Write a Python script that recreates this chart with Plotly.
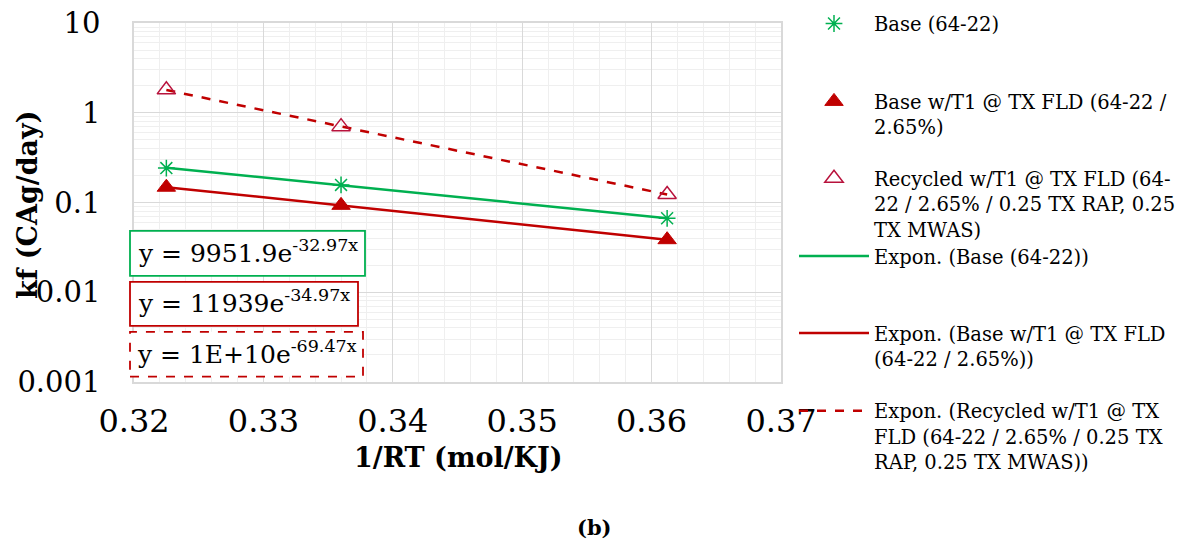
import numpy as np
import plotly.graph_objects as go

# ---- data ----
x_vals = [0.3225, 0.3360, 0.3612]
base = [0.242, 0.157, 0.0667]
base_t1 = [0.148, 0.093, 0.0385]
recycled = [1.80, 0.70, 0.123]

names = [
    "Base (64-22)",
    "Base w/T1 @ TX FLD (64-22 /<br>2.65%)",
    "Recycled w/T1 @ TX FLD (64-<br>22 / 2.65% / 0.25 TX RAP, 0.25<br>TX MWAS)",
]
trend_names = [
    "Expon. (Base (64-22))",
    "Expon. (Base w/T1 @ TX FLD<br>(64-22 / 2.65%))",
    "Expon. (Recycled w/T1 @ TX<br>FLD (64-22 / 2.65% / 0.25 TX<br>RAP, 0.25 TX MWAS))",
]
equations = [
    "y = 9951.9e<sup>-32.97x</sup>",
    "y = 11939e<sup>-34.97x</sup>",
    "y = 1E+10e<sup>-69.47x</sup>",
]
y_tickvals = [0.001, 0.01, 0.1, 1, 10]
y_ticktext = ["0.001", "0.01", "0.1", "1", "10"]
x_tickvals = [0.32, 0.33, 0.34, 0.35, 0.36, 0.37]
x_ticktext = ["0.32", "0.33", "0.34", "0.35", "0.36", "0.37"]

GREEN = "#00b050"
RED = "#c00000"
RED2 = "#b8123c"
FONT = "DejaVu Serif"

W, H = 1189, 541
L, R, T, B = 134, 781, 22.7, 382.3


def px(xp):
    return (xp - L) / (R - L)


def py(yp):
    return (B - yp) / (B - T)


fig = go.Figure()
series = [base, base_t1, recycled]
marker_styles = [
    dict(symbol="asterisk-open", size=14, color=GREEN, line=dict(color=GREEN, width=1.5)),
    dict(symbol="triangle-up", size=16, color=RED, line=dict(color=RED, width=1)),
    dict(symbol="triangle-up-open", size=16, color=RED2, line=dict(color=RED2, width=1.5)),
]
line_styles = [
    dict(color=GREEN, width=2.5),
    dict(color=RED, width=2.5),
    dict(color=RED, width=2.5, dash="dash"),
]
legend_ids = ["legend", "legend2", "legend3", "legend4", "legend5", "legend6"]
legend_line_y = [24, 102, 179, 257, 334, 412]

xa = np.array(x_vals)
for i, (s, n, ls) in enumerate(zip(series, trend_names, line_styles)):
    b, a = np.polyfit(xa, np.log(np.array(s)), 1)
    xt = np.array([xa.min(), xa.max()])
    yt = np.exp(a + b * xt)
    fig.add_trace(go.Scatter(x=xt, y=yt, mode="lines", name=n, line=ls,
                             legend=legend_ids[3 + i]))

for i, (s, n, m) in enumerate(zip(series, names, marker_styles)):
    fig.add_trace(go.Scatter(x=x_vals, y=s, mode="markers", name=n, marker=m,
                             legend=legend_ids[i]))

# equation boxes
box_specs = [(GREEN, "solid"), (RED, "solid"), (RED, "dash")]
box_y = [(231, 276), (282, 326), (332, 377)]
box_x = [(130, 365), (130, 358), (130, 363)]
for eq, (col, dash), (y0, y1), (x0, x1) in zip(equations, box_specs, box_y, box_x):
    fig.add_shape(type="rect", xref="paper", yref="paper",
                  x0=px(x0), x1=px(x1), y0=py(y1), y1=py(y0),
                  line=dict(color=col, width=1.8, dash=dash), fillcolor="white", layer="above")
    fig.add_annotation(xref="paper", yref="paper", x=px((x0 + x1) / 2), y=py((y0 + y1) / 2 - 2),
                       text=eq, showarrow=False, font=dict(family=FONT, size=25, color="black"),
                       xanchor="center", yanchor="middle")

fig.add_annotation(xref="paper", yref="paper", x=px(594), y=py(528), text="<b>(b)</b>",
                   showarrow=False, xanchor="center", yanchor="middle",
                   font=dict(family=FONT, size=21, color="black"))
fig.add_annotation(xref="paper", yref="paper", x=px(458), y=py(458), text="<b>1/RT (mol/KJ)</b>",
                   showarrow=False, xanchor="center", yanchor="middle",
                   font=dict(family=FONT, size=27, color="black"))
fig.add_annotation(xref="paper", yref="paper", x=px(28), y=py(205), text="<b>kf (CAg/day)</b>",
                   showarrow=False, textangle=-90, xanchor="center", yanchor="middle",
                   font=dict(family=FONT, size=27, color="black"))

legend_common = dict(xanchor="left", yanchor="top",
                     font=dict(family=FONT, size=19.5, color="black"),
                     valign="top", itemwidth=70, bgcolor="rgba(0,0,0,0)")
layout_legends = {}
for lid, ly in zip(legend_ids, legend_line_y):
    layout_legends[lid] = dict(x=px(794), y=py(ly - 20), **legend_common)

fig.update_layout(
    width=W, height=H,
    margin=dict(l=L, r=W - R, t=T, b=H - B, autoexpand=False),
    paper_bgcolor="white", plot_bgcolor="white",
    font=dict(family=FONT, size=32, color="black"),
    showlegend=True,
    **layout_legends,
)

minor_y = [m * 10.0 ** e for e in range(-3, 1) for m in range(2, 10)]

fig.update_xaxes(
    range=[0.32, 0.37], tickvals=x_tickvals, ticktext=x_ticktext,
    showgrid=True, gridcolor="#d9d9d9", gridwidth=1.3,
    minor=dict(dtick=0.002, showgrid=True, gridcolor="#efefef", gridwidth=1.3),
    showline=True, linecolor="#d9d9d9", linewidth=1.5, mirror=True,
    ticks="", ticklabelstandoff=10, zeroline=False, automargin=False,
    tickfont=dict(family=FONT, size=32),
)
fig.update_yaxes(
    type="log", range=[-3, 1], tickvals=y_tickvals, ticktext=y_ticktext,
    showgrid=True, gridcolor="#d9d9d9", gridwidth=1.3,
    minor=dict(tickmode="array", tickvals=minor_y, showgrid=True, gridcolor="#efefef", gridwidth=1.3),
    showline=True, linecolor="#d9d9d9", linewidth=1.5, mirror=True,
    ticks="", ticklabelstandoff=26, zeroline=False, automargin=False,
    tickfont=dict(family=FONT, size=29),
)

fig.write_html("out.html", post_script="document.body.style.margin='0';",
               config={"displayModeBar": False})
